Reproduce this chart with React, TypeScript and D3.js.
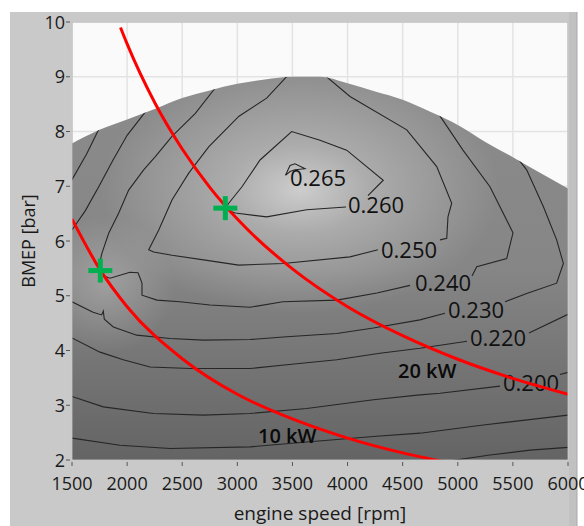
import React from "react";
import * as d3 from "d3";

// axis ticks
const rpmTicks = [1500, 2000, 2500, 3000, 3500, 4000, 4500, 5000, 5500, 6000];
const bmepTicks = [2, 3, 4, 5, 6, 7, 8, 9, 10];

// upper edge of the measured map
const boundaryRpm = [1500, 1750, 2000, 2250, 2500, 2750, 3000, 3250, 3500, 3750, 4000, 4250, 4500, 4750, 5000, 5250, 5500, 5750, 6000];
const boundaryBmep = [7.78, 8.03, 8.22, 8.41, 8.61, 8.75, 8.87, 8.95, 9.0, 9.0, 8.88, 8.73, 8.58, 8.36, 8.12, 7.81, 7.53, 7.24, 6.96];

// efficiency contours [rpm, bmep], split where a label sits on the line
const c265 = [[3437, 7.2], [3478, 7.38], [3523, 7.41], [3614, 7.32], [3523, 7.3], [3478, 7.27], [3437, 7.2]];
const c260 = [[4185, 6.83], [4324, 7.11], [3992, 7.66], [3750, 7.84], [3493, 8.0], [3206, 7.48], [3042, 6.99], [2922, 6.69], [2888, 6.58], [2982, 6.51], [3266, 6.44], [3629, 6.57], [3986, 6.62]];
const c250a = [[3493, 9.1], [3266, 8.61], [3015, 8.28], [2740, 7.72], [2559, 7.24], [2407, 6.75], [2287, 6.2], [2196, 5.84], [2241, 5.8], [2407, 5.74], [2709, 5.65], [3012, 5.56], [3417, 5.59], [4022, 5.71], [4276, 5.84]];
const c250b = [[4839, 6.02], [4900, 6.05], [4911, 6.44], [4945, 6.69], [4809, 7.36], [4537, 8.03], [4022, 8.64], [3750, 9.1]];
const c240a = [[2840, 8.9], [2619, 8.33], [2407, 7.91], [2256, 7.54], [2150, 7.3], [2014, 6.93], [1924, 6.51], [1833, 6.14], [1772, 5.78], [1742, 5.53], [1790, 5.36], [1845, 5.32], [2026, 5.43], [2099, 5.42], [2135, 5.23], [2135, 5.01], [2271, 4.92], [2480, 4.89], [2752, 4.83], [3115, 4.79], [3414, 4.89], [3904, 4.92], [4267, 5.05], [4567, 5.19]];
const c240b = [[5129, 5.36], [5172, 5.53], [5444, 5.68], [5474, 5.93], [5501, 6.15], [5292, 6.99], [5047, 7.66], [4800, 8.4]];
const c230a = [[1500, 4.89], [1691, 4.7], [1769, 4.65], [1784, 4.72], [1793, 4.57], [1875, 4.43], [2087, 4.28], [2389, 4.22], [2691, 4.19], [3115, 4.2], [3448, 4.25], [3902, 4.31], [4234, 4.41], [4657, 4.56], [4884, 4.68]];
const c230b = [[5428, 4.89], [5625, 5.04], [5897, 5.23], [5958, 5.59], [5897, 6.02], [5776, 6.63], [5625, 7.3], [5490, 7.65]];
const c220a = [[1500, 4.23], [1754, 3.97], [1965, 3.83], [2208, 3.7], [2571, 3.67], [3115, 3.67], [3448, 3.74], [3902, 3.83], [4294, 3.95], [4657, 4.04], [5084, 4.17]];
const c220b = [[5646, 4.32], [6000, 4.66]];
const c200a = [[1500, 3.16], [1784, 2.97], [2238, 2.85], [2691, 2.82], [3115, 2.85], [3629, 2.94], [4234, 3.1], [4657, 3.19], [4839, 3.22], [5383, 3.35]];
const c200b = [[5927, 3.56], [6000, 3.6]];
const c190 = [[1500, 2.4], [1935, 2.27], [2389, 2.21], [3115, 2.24], [3629, 2.33], [4234, 2.43], [4657, 2.49], [5232, 2.64], [6000, 2.82]];
const c180 = [[4880, 1.97], [5292, 2.09], [5655, 2.18], [6000, 2.23]];
const cLeft1 = [[1770, 8.15], [1635, 7.6], [1500, 7.12]];
const cLeft2 = [[2240, 8.55], [2000, 7.93], [1870, 7.47], [1745, 7.0], [1620, 6.55], [1500, 6.2]];

const contourLines = [c265, c260, c250a, c250b, c240a, c240b, c230a, c230b, c220a, c220b, c200a, c200b, c190, c180, cLeft1, cLeft2];

const contourText = ["0.265", "0.260", "0.250", "0.240", "0.230", "0.220", "0.200"];
const contourTextRpm = [3478, 4004, 4303, 4612, 4911, 5111, 5410];
const contourTextBmep = [7.0, 6.51, 5.69, 5.09, 4.59, 4.08, 3.26];

// constant power lines
const power10Rpm = [1500, 1750, 2000, 2500, 3000, 3500, 4000, 4500, 4870];
const power10Bmep = [6.4, 5.49, 4.8, 3.85, 3.2, 2.75, 2.4, 2.13, 1.97];
const power20Rpm = [1940, 2000, 2250, 2500, 2750, 3000, 3500, 4000, 4500, 5000, 5500, 6000];
const power20Bmep = [9.9, 9.6, 8.53, 7.68, 6.98, 6.4, 5.49, 4.8, 4.27, 3.84, 3.49, 3.2];
const powerText = ["10 kW", "20 kW"];
const powerTextRpm = [3188, 4458];
const powerTextBmep = [2.31, 3.5];

// operating points
const opRpm = [1757, 2891];
const opBmep = [5.46, 6.6];

const font = "'Open Sans', sans-serif";

const App: React.FC = () => {
  const width = 584;
  const height = 526;
  const plot = { left: 72, top: 22, right: 568, bottom: 460 };

  const x = d3.scaleLinear().domain([1500, 6000]).range([plot.left, plot.right]);
  const y = d3.scaleLinear().domain([2, 10]).range([plot.bottom, plot.top]);

  const domeArea = d3
    .area<number>()
    .x((_, i) => x(boundaryRpm[i]))
    .y0(y(2))
    .y1((d) => y(d))
    .curve(d3.curveMonotoneX);
  const domePath = domeArea(boundaryBmep) || "";

  const contourLine = d3
    .line<number[]>()
    .x((d) => x(d[0]))
    .y((d) => y(d[1]));

  const powerLine = d3
    .line<number>()
    .x((d) => x(d))
    .curve(d3.curveMonotoneX);

  const p10 = powerLine.y((_, i) => y(power10Bmep[i]))(power10Rpm) || "";
  const p20 = powerLine.y((_, i) => y(power20Bmep[i]))(power20Rpm) || "";

  return (
    <svg
      width={width}
      height={height}
      style={{ position: "absolute", left: 0, top: 0, display: "block" }}
    >
      <defs>
        <clipPath id="plotClip">
          <rect x={plot.left} y={plot.top} width={plot.right - plot.left} height={plot.bottom - plot.top} />
        </clipPath>
        <clipPath id="domeClip">
          <path d={domePath} />
        </clipPath>
        <linearGradient id="domeFill" x1={0} y1={y(9)} x2={0} y2={y(2)} gradientUnits="userSpaceOnUse">
          <stop offset="0" stopColor="#8b8b8b" />
          <stop offset="0.5" stopColor="#868686" />
          <stop offset="1" stopColor="#646464" />
        </linearGradient>
        <radialGradient
          id="glow"
          cx={300}
          cy={190}
          r={200}
          gradientUnits="userSpaceOnUse"
          gradientTransform="translate(300,190) scale(1,0.62) translate(-300,-190)"
        >
          <stop offset="0" stopColor="#fff" stopOpacity={0.58} />
          <stop offset="0.35" stopColor="#fff" stopOpacity={0.3} />
          <stop offset="1" stopColor="#fff" stopOpacity={0} />
        </radialGradient>
        <radialGradient id="glowLeft" cx={105} cy={285} r={70} gradientUnits="userSpaceOnUse">
          <stop offset="0" stopColor="#fff" stopOpacity={0.22} />
          <stop offset="1" stopColor="#fff" stopOpacity={0} />
        </radialGradient>
      </defs>

      {/* panel */}
      <rect x={10} y={12} width={567} height={514} fill="#c9c9c9" />
      <rect x={569} y={12} width={8} height={514} fill="#c1c1c1" />
      <line x1={577} x2={577} y1={12} y2={526} stroke="#a9a9a9" />

      {/* plot background + grid */}
      <rect x={plot.left} y={plot.top} width={plot.right - plot.left} height={plot.bottom - plot.top} fill="#fafafa" />
      {rpmTicks.map((t) => (
        <line key={"gx" + t} x1={x(t)} x2={x(t)} y1={plot.top} y2={plot.bottom} stroke="#e3e3e3" strokeWidth={1.5} />
      ))}
      {bmepTicks.map((t) => (
        <line key={"gy" + t} x1={plot.left} x2={plot.right} y1={y(t)} y2={y(t)} stroke="#e3e3e3" strokeWidth={1.5} />
      ))}

      {/* efficiency map */}
      <g clipPath="url(#plotClip)">
        <path d={domePath} fill="url(#domeFill)" />
        <g clipPath="url(#domeClip)">
          <rect x={plot.left} y={plot.top} width={plot.right - plot.left} height={plot.bottom - plot.top} fill="url(#glow)" />
          <rect x={plot.left} y={plot.top} width={plot.right - plot.left} height={plot.bottom - plot.top} fill="url(#glowLeft)" />
          {contourLines.map((c, i) => (
            <path key={i} d={contourLine(c as number[][]) || ""} fill="none" stroke="#262626" strokeWidth={1.1} />
          ))}
        </g>
        {contourText.map((t, i) => (
          <text key={t} x={x(contourTextRpm[i])} y={y(contourTextBmep[i])} fontFamily={font} fontSize={22} fill="#111">
            {t}
          </text>
        ))}
        {powerText.map((t, i) => (
          <text key={t} x={x(powerTextRpm[i])} y={y(powerTextBmep[i])} fontFamily={font} fontSize={20} fontWeight={600} fill="#0a0a0a">
            {t}
          </text>
        ))}
        <path d={p10} fill="none" stroke="#ff0000" strokeWidth={3} />
        <path d={p20} fill="none" stroke="#ff0000" strokeWidth={3} />
        {opRpm.map((r, i) => (
          <g key={"op" + i} transform={`translate(${x(r)},${y(opBmep[i])})`} stroke="#00b050" strokeWidth={5}>
            <line x1={-12} x2={12} y1={0} y2={0} />
            <line x1={0} x2={0} y1={-12} y2={12} />
          </g>
        ))}
      </g>
      <rect x={plot.left} y={plot.top} width={plot.right - plot.left} height={plot.bottom - plot.top} fill="none" stroke="#b4b4b4" />

      {/* axes */}
      {rpmTicks.map((t) => (
        <g key={"tx" + t}>
          <line x1={x(t)} x2={x(t)} y1={plot.bottom + 2} y2={plot.bottom + 6} stroke="#555" />
          <text x={x(t)} y={490} textAnchor="middle" fontFamily={font} fontSize={18} fill="#1a1a1a">
            {t}
          </text>
        </g>
      ))}
      {bmepTicks.map((t) => (
        <g key={"ty" + t}>
          <line x1={plot.left - 6} x2={plot.left - 2} y1={y(t)} y2={y(t)} stroke="#555" />
          <text x={65} y={y(t) + 6.5} textAnchor="end" fontFamily={font} fontSize={18} fill="#1a1a1a">
            {t}
          </text>
        </g>
      ))}
      <text x={(plot.left + plot.right) / 2} y={520} textAnchor="middle" fontFamily={font} fontSize={19} fill="#1a1a1a">
        engine speed [rpm]
      </text>
      <text
        transform={`translate(35,${(plot.top + plot.bottom) / 2}) rotate(-90)`}
        textAnchor="middle"
        fontFamily={font}
        fontSize={18}
        fill="#1a1a1a"
      >
        BMEP [bar]
      </text>
    </svg>
  );
};

export default App;
